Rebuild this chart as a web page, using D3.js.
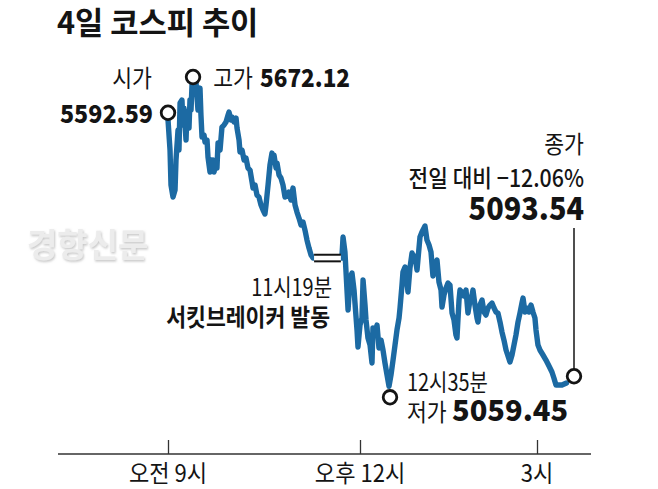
<!DOCTYPE html>
<html><head><meta charset="utf-8">
<script src="https://cdn.jsdelivr.net/npm/d3@7"></script>
<style>body{margin:0;background:#fff}svg{display:block}text{font-family:"Noto Sans CJK KR","Noto Sans",sans-serif}</style>
</head><body><svg id="c" width="658" height="489"></svg>
<script>
// minutes after 09:00, KOSPI index
const kospi = [[0,5592.59],[1.9,5532],[2.8,5462],[4.7,5438],[6.6,5452],[7.5,5512],[9.4,5572],[10.3,5532],[11.3,5626],[13.1,5632],[14.1,5582],[15,5616],[16.9,5552],[17.8,5608],[19.7,5576],[20.6,5632],[21.6,5612],[22.5,5662],[24.4,5672.12],[25.3,5648],[26.3,5666],[28.1,5612],[29.1,5642],[30,5656],[30.9,5602],[31.9,5558],[33.8,5562],[34.7,5548],[36.6,5552],[37.5,5518],[39.4,5488],[40.3,5512],[41.3,5492],[42.2,5512],[43.1,5488],[45,5506],[45.9,5496],[46.9,5546],[48.8,5532],[50.6,5578],[52.5,5582],[54.4,5588],[56.3,5602],[57.2,5608],[59.1,5592],[60,5598],[61.9,5588],[63.8,5596],[64.7,5576],[66.6,5552],[67.5,5528],[69.4,5532],[71.3,5512],[73.1,5516],[75,5496],[76.9,5492],[78.8,5468],[79.7,5456],[81.6,5462],[83.4,5442],[85.3,5438],[87.2,5422],[89.1,5412],[90.9,5404],[91.9,5422],[93.8,5462],[95.6,5502],[97.5,5526],[98.4,5512],[99.4,5522],[101.3,5496],[102.2,5506],[104.1,5482],[105.9,5476],[107.8,5462],[109.7,5438],[111.6,5442],[113.4,5448],[115.3,5432],[117.2,5456],[119.1,5422],[120.9,5408],[122.8,5396],[124.7,5382],[126.6,5388],[128.4,5372],[130.3,5352],[132.2,5336],[134.1,5322],[136,5316],[163,5316],[164.1,5358],[165.9,5328],[167.8,5252],[168.8,5212],[170.6,5276],[172.5,5286],[174.4,5252],[175.3,5226],[177.2,5172],[178.1,5138],[180,5182],[182,5196],[183.1,5272],[185.1,5222],[186.1,5192],[188.1,5156],[190.2,5142],[192.2,5106],[193.2,5176],[195.3,5166],[197.3,5182],[199.3,5136],[201.4,5152],[203.4,5132],[205.4,5106],[207.5,5082],[209.5,5059.45],[211.5,5082],[213.6,5112],[215.6,5142],[217.6,5172],[219.7,5196],[220.7,5216],[222.7,5262],[223.7,5288],[225.8,5298],[227.8,5266],[228.8,5248],[230.8,5296],[232.9,5326],[234.9,5316],[235.9,5320],[238,5292],[240,5336],[241,5358],[243,5368],[245.1,5376],[246.1,5380],[248.1,5352],[250.2,5342],[252.2,5328],[254.2,5280],[256.3,5302],[258.3,5312],[260.3,5268],[262.4,5252],[263.4,5218],[265.4,5242],[267.5,5256],[269.5,5266],[271.5,5262],[273.6,5206],[275.6,5192],[277.6,5162],[278.6,5156],[280.7,5232],[281.7,5252],[283.7,5248],[285.8,5240],[287.8,5252],[289.8,5206],[291.9,5232],[293.9,5242],[294.9,5252],[296.9,5222],[299,5196],[300,5188],[302,5222],[304.1,5232],[306.1,5208],[308.1,5202],[310.2,5216],[312.2,5222],[314.2,5226],[316.3,5216],[318.3,5208],[320.3,5206],[322.4,5188],[324.4,5168],[326.4,5152],[328.5,5132],[330.5,5120],[332.5,5108],[334.6,5122],[336.6,5142],[338.6,5162],[340.7,5188],[342.7,5206],[344.7,5226],[345.8,5236],[347.8,5208],[349.8,5216],[351.9,5208],[353.9,5222],[355.9,5208],[357.9,5196],[359,5172],[361,5142],[363,5132],[366.1,5122],[369.1,5112],[372.2,5100],[375.2,5088],[377.2,5076],[379.3,5062],[385.4,5062],[390,5066]];
const tickTimes = [0, 180, 360];
const tickLabels = ["오전 9시", "오후 12시", "3시"];
const haltTimes = [136, 163];
const openPt = {t: 0, v: 5592.59};
const highPt = {t: 24.4, v: 5672.12};
const lowPt = {t: 209.5, v: 5059.45};
const closePt = {t: 390, v: 5093.54};
const title = "4일 코스피 추이";

const svg = d3.select("#c");
const x = d3.scaleLinear().domain([0, 180, 360]).range([168, 360, 537]);
const y = d3.scaleLinear().domain([5059.45, 5672.12]).range([386.3, 80]);
const INK = "#141414", BLUE = "#1c6aa3";

function label(px, py, txt, o = {}) {
  const {size = 23, weight = 400, anchor = "start", sx = 0.88, fill = INK} = o;
  return svg.append("text").attr("transform", `translate(${px},${py}) scale(${sx},1)`)
    .attr("text-anchor", anchor).attr("font-size", size).attr("font-weight", weight)
    .attr("fill", fill).text(txt);
}

// watermark
const defs = svg.append("defs");
const f = defs.append("filter").attr("id", "wm").attr("x", "-10%").attr("y", "-20%").attr("width", "130%").attr("height", "150%");
f.append("feDropShadow").attr("dx", 1).attr("dy", 1.5).attr("stdDeviation", 1.2).attr("flood-color", "#999").attr("flood-opacity", 0.55);
svg.append("text").attr("x", 27).attr("y", 257).attr("font-size", 33).attr("font-weight", 700)
  .attr("fill", "#ececec").attr("filter", "url(#wm)").text("경향신문");

// title
label(57, 34, title, {size: 31, weight: 700, sx: 0.99});

// axis
svg.append("line").attr("x1", 58).attr("x2", 591).attr("y1", 454).attr("y2", 454)
  .attr("stroke", "#333").attr("stroke-width", 1.3);
const ax = svg.append("g").attr("transform", "translate(0,454)")
  .call(d3.axisTop(x).tickValues(tickTimes).tickSize(14).tickFormat(""));
ax.select(".domain").remove();
ax.selectAll(".tick line").attr("stroke", "#333").attr("stroke-width", 1.3);
tickTimes.forEach((t, i) => label(x(t), 482, tickLabels[i], {anchor: "middle", size: 24, sx: 0.92}));

// line
const line = d3.line().x(d => x(d[0])).y(d => y(d[1]));
svg.append("path").datum(kospi).attr("d", line).attr("fill", "none")
  .attr("stroke", BLUE).attr("stroke-width", 5.4).attr("stroke-linejoin", "round").attr("stroke-linecap", "round");

// trading halt marker
const hv = kospi.find(d => d[0] === haltTimes[0])[1];
svg.append("rect").attr("x", x(haltTimes[0]) + 1).attr("width", x(haltTimes[1]) - x(haltTimes[0]) - 2)
  .attr("y", y(hv) - 3.5).attr("height", 7).attr("fill", "#fff");
[-3.3, 3.3].forEach(o => svg.append("line").attr("x1", x(haltTimes[0]) + 1).attr("x2", x(haltTimes[1]) - 1)
  .attr("y1", y(hv) + o).attr("y2", y(hv) + o).attr("stroke", INK).attr("stroke-width", 2));

// close leader line
svg.append("line").attr("x1", x(closePt.t) + 7.5).attr("x2", x(closePt.t) + 7.5)
  .attr("y1", 228).attr("y2", y(closePt.v) + 7).attr("stroke", INK).attr("stroke-width", 1.5);

// circles
[[openPt, 0, -7], [highPt, -1, -3], [lowPt, 1, 11], [closePt, 7.5, 7]].forEach(([p, dx, dy]) => {
  svg.append("circle").attr("cx", x(p.t) + dx).attr("cy", y(p.v) + dy).attr("r", 6.8)
    .attr("fill", "#fff").attr("stroke", INK).attr("stroke-width", 2.8);
});

// annotations
label(152, 87, "시가", {anchor: "end", size: 24, sx: 0.9});
label(153, 123, "5592.59", {anchor: "end", size: 25, weight: 900, sx: 0.93});
label(260, 87, "고가", {size: 24, sx: 0.9, anchor: "end"}).attr("transform", "translate(253,87) scale(0.9,1)");
label(260, 87, "5672.12", {size: 25, weight: 900, sx: 0.9});
label(584, 153, "종가", {anchor: "end", size: 24, sx: 0.9});
label(584, 187, "전일 대비 −12.06%", {anchor: "end", size: 24, weight: 500, sx: 0.89});
label(584, 220, "5093.54", {anchor: "end", size: 31, weight: 900, sx: 0.93});
label(332, 296, "11시19분", {anchor: "end", size: 24, sx: 0.83});
label(330, 326, "서킷브레이커 발동", {anchor: "end", size: 24, weight: 700, sx: 0.9});
label(407, 391, "12시35분", {size: 24, sx: 0.83});
label(407, 421, "저가", {size: 24, sx: 0.9});
label(452, 421, "5059.45", {size: 29, weight: 900, sx: 1.0});
</script></body></html>
